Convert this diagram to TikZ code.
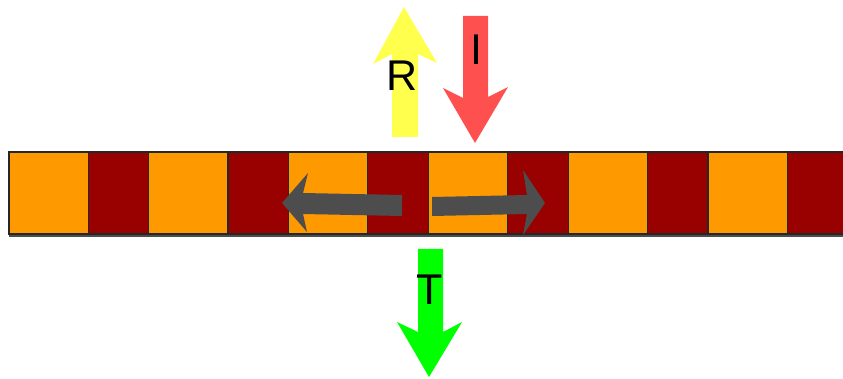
\documentclass[tikz,border=0pt]{standalone}
\usepackage{fontspec}
\setmainfont{Liberation Sans}
\definecolor{cellorange}{RGB}{255,153,0}
\definecolor{cellred}{RGB}{153,0,0}
\definecolor{reflyellow}{RGB}{255,255,77}
\definecolor{incred}{RGB}{255,80,80}
\definecolor{transgreen}{RGB}{0,255,0}
\definecolor{flowgray}{RGB}{77,77,77}

\begin{document}
\begin{tikzpicture}[x=1pt,y=-1pt,line join=miter,
  cell/.style={draw=black!85,line width=1.2pt},
  lbl/.style={inner sep=0pt,font=\fontsize{43}{46}\selectfont}]
\useasboundingbox (0,0) rectangle (843,379);
% layered strip
\fill[black!70] (9,233) rectangle (843,237);
\foreach \i in {0,...,5} {
  \draw[cell,fill=cellorange] ({9+139.8*\i},152) rectangle ++(79.2,82);
  \draw[cell,fill=cellred] ({88.2+139.8*\i},152) rectangle ++(60.6,82);
}
% lateral flow
\fill[flowgray] (402,195) -- (303,193) -- (308,173) -- (282,203) -- (307,232) -- (303,214) -- (402,216) -- cycle;
\fill[flowgray] (432,197) -- (527,195) -- (523,170) -- (545,203) -- (523,235) -- (527,214) -- (432,216) -- cycle;
% reflected, incident, transmitted
\fill[reflyellow] (392,137) -- (392,54) -- (373,64) -- (404,7) -- (437,63) -- (418,54) -- (418,137) -- cycle;
\fill[incred] (463,16) -- (463,98) -- (443,88) -- (475,143) -- (508,87) -- (488,97) -- (488,16) -- cycle;
\fill[transgreen] (418,249) -- (418,332) -- (397,322) -- (429,377) -- (462,322) -- (443,332) -- (443,249) -- cycle;
\node[lbl] (lblR) at (402,76) {R};
\node[lbl] (lblI) at (476,50) {I};
\node[lbl] (lblT) at (429.5,290) {T};
\end{tikzpicture}
\end{document}
